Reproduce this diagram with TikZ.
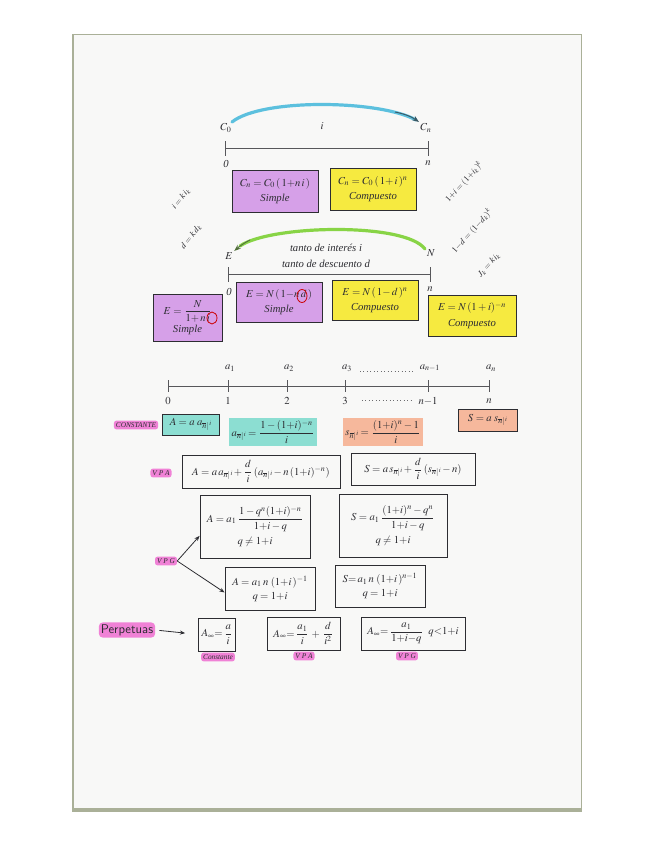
\documentclass[tikz,border=0pt]{standalone}
\usepackage{amsmath}
\usepackage{mathptmx}
\usepackage{fontspec}
\setmainfont{Liberation Serif}
\usetikzlibrary{arrows.meta}
\definecolor{paperedge}{RGB}{170,176,152}
\definecolor{paper}{RGB}{248,248,247}
\definecolor{vio}{RGB}{214,160,232}
\definecolor{yel}{RGB}{246,234,64}
\definecolor{tea}{RGB}{140,222,210}
\definecolor{ora}{RGB}{246,184,156}
\definecolor{pnk}{RGB}{240,130,214}
\definecolor{arcblue}{RGB}{92,192,222}
\definecolor{arcgreen}{RGB}{136,212,70}
\definecolor{ink}{RGB}{45,45,50}
\newcommand\annu[1]{_{\overline{#1}|}}
\tikzset{
  txt/.style={font=\fontsize{8}{9.5}\selectfont\itshape, text=ink, inner sep=1pt},
  rtxt/.style={font=\fontsize{6.5}{7}\selectfont\itshape, text=ink, inner sep=0pt},
  fbox/.style={txt, draw=ink, line width=0.6pt, align=center, inner sep=2pt},
  hl/.style={txt, fill=pnk, rounded corners=2pt, inner sep=1.5pt, font=\fontsize{5.5}{6}\selectfont\itshape},
  axis/.style={draw=ink!80, line width=0.6pt},
  conn/.style={draw=ink, line width=0.6pt, -{Stealth[length=4pt]}},
}
\begin{document}
\begin{tikzpicture}[x=0.75pt,y=-0.75pt]
\useasboundingbox (0,0) rectangle (655,848);
\fill[white] (0,0) rectangle (655,848);
\fill[paperedge] (72,34) rectangle (582,812);
\fill[paper] (73.5,35.5) rectangle (580.5,807.5);

% ---------- top: capitalisation ----------
\node[txt] (c0) at (226,128) {$C_0$};
\node[txt] (cn) at (426,128) {$C_n$};
\node[txt] (ilab) at (322,126) {$i$};
\coordinate (t0) at (225,148);
\coordinate (tn) at (428,148);
\draw[axis] (t0) -- (tn);
\draw[axis] ([yshift=5pt]t0) -- ([yshift=-6pt]t0);
\draw[axis] ([yshift=5pt]tn) -- ([yshift=-6pt]tn);
\node[txt] (z0) at (226,164) {0};
\node[txt] (zn) at (428,163) {$n$};
\draw[arcblue, line width=2.4pt, line cap=round] (232,122) .. controls (262,98) and (380,100) .. (416,120);
\draw[ink!70!arcblue, line width=0.7pt, -{Stealth[length=5pt]}] (395,112) .. controls (405,114) and (412,117) .. (cn.north west);

\node[fbox, fill=vio, minimum width=64.5pt, minimum height=31.5pt] (b1) at (275,191)
  {$C_n = C_0\,(\,1{+}n\,i\,)$\\[2pt]Simple};
\node[fbox, fill=yel, minimum width=64.5pt, minimum height=31.5pt] (b2) at (373,189)
  {$C_n = C_0\,(\,1{+}\,i\,)^{n}$\\[2pt]Compuesto};

\node[rtxt, rotate=52] (r1) at (181,199) {$i = k\,i_k$};
\node[rtxt, rotate=52] (r2) at (191,237) {$d = k\,d_k$};
\node[rtxt, rotate=48] (r3) at (464,182) {$1{+}i = (1{+}i_k)^{k}$};
\node[rtxt, rotate=48] (r4) at (472,231) {$1{-}d = (1{-}d_k)^{k}$};
\node[rtxt, rotate=48] (r5) at (489,265) {$J_k = k\,i_k$};

% ---------- discount ----------
\node[txt] (e) at (229,256) {$E$};
\node[txt] (nn) at (431,253) {$N$};
\node[txt] (ti) at (326,248) {tanto de interés i};
\node[txt] (td) at (326,264) {tanto de descuento d};
\coordinate (s0) at (228,274);
\coordinate (sn) at (430,274);
\draw[axis] (s0) -- (sn);
\draw[axis] ([yshift=5pt]s0) -- ([yshift=-6pt]s0);
\draw[axis] ([yshift=5pt]sn) -- ([yshift=-6pt]sn);
\node[txt] (y0) at (229,292) {0};
\node[txt] (yn) at (430,289) {$n$};
\draw[arcgreen, line width=2.4pt, line cap=round] (425,249) .. controls (405,222) and (270,225) .. (240,246);
\draw[ink!60!arcgreen, line width=0.7pt, -{Stealth[length=5pt]}] (250,240) .. controls (244,243) and (240,246) .. (e.north east);

\node[fbox, fill=vio, minimum width=51.75pt, minimum height=35.25pt] (ba) at (187.5,317.5)
  {$E=\dfrac{N}{1{+}\,n\,i}$\\[1pt]Simple};
\draw[red!80!black, line width=0.6pt] (212,318) ellipse (5 and 6);
\node[fbox, fill=vio, minimum width=64.5pt, minimum height=30pt] (bb) at (279,302)
  {$E = N\,(\,1{-}n\,d\,)$\\[2pt]Simple};
\draw[red!80!black, line width=0.6pt] (302,296) ellipse (5 and 6.5);
\node[fbox, fill=yel, minimum width=64.5pt, minimum height=30pt] (bc) at (375,300)
  {$E = N\,(\,1{-}\,d\,)^{n}$\\[2pt]Compuesto};
\node[fbox, fill=yel, minimum width=66pt, minimum height=30.75pt] (bd) at (472,315.5)
  {$E = N\,(1 + i)^{-n}$\\[2pt]Compuesto};

% ---------- annuity axis ----------
\foreach \x/\nm/\lab/\num in {168/p0//0, 228/p1/a_1/1, 287/p2/a_2/2, 345/p3/a_3/3, 428/p4/a_{n-1}/n{-}1, 489/p5/a_n/n}{
  \coordinate (\nm) at (\x,386);
  \draw[axis] ([yshift=4.5pt]\nm) -- ([yshift=-4.5pt]\nm);
  \node[txt] at (\x,401) {$\num$};
  \node[txt] at (\x+2,368) {$\lab$};
}
\draw[axis] (p0) -- (p5);
\draw[ink!70, dotted, line width=0.6pt] (360,371) -- (414,371);
\draw[ink!70, dotted, line width=0.6pt] (362,400) -- (412,400);

\node[hl] (cte) at (136,425) {CONSTANTE};
\node[fbox, fill=tea, minimum width=42.75pt, minimum height=15.75pt] (ca) at (190.5,424.5)
  {$A = a\;a\annu{n}{\scriptscriptstyle i}$};
\node[txt, fill=tea, inner sep=2pt] (an) at (273,432)
  {$a\annu{n}{\scriptscriptstyle i} = \dfrac{1-(1{+}i)^{-n}}{i}$};
\node[txt, fill=ora, inner sep=2pt] (sn2) at (383,432)
  {$s\annu{n}{\scriptscriptstyle i} = \dfrac{(1{+}i)^{n}-1}{i}$};
\node[fbox, fill=ora, minimum width=44.25pt, minimum height=16.5pt] (cs) at (487.5,420)
  {$S = a\;s\annu{n}{\scriptscriptstyle i}$};

% ---------- VPA ----------
\node[hl] (vpa) at (161,473) {V P A};
\node[fbox, minimum width=118.5pt, minimum height=24.75pt] (va) at (261,471.5)
  {$A = a\,a\annu{n}{\scriptscriptstyle i} + \dfrac{d}{i}\,(a\annu{n}{\scriptscriptstyle i} - n\,(1{+}i)^{-n})$};
\node[fbox, minimum width=93pt, minimum height=24pt] (vs) at (413,469)
  {$S = a\,s\annu{n}{\scriptscriptstyle i} + \dfrac{d}{i}\,(s\annu{n}{\scriptscriptstyle i} - n)$};

% ---------- VPG ----------
\node[fbox, minimum width=82.5pt, minimum height=47.25pt] (ga) at (255,526.5)
  {$A = a_1\,\dfrac{1-q^{n}(1{+}i)^{-n}}{1{+}i-q}$\\[3pt]$q \neq 1{+}i$};
\node[fbox, minimum width=81pt, minimum height=47.25pt] (gs) at (393,525.5)
  {$S = a_1\,\dfrac{(1{+}i)^{n}-q^{n}}{1{+}i-q}$\\[3pt]$q \neq 1{+}i$};
\node[hl] (vpg) at (166,561) {V P G};
\node[fbox, minimum width=67.5pt, minimum height=32.25pt] (ga2) at (270,588.5)
  {$A = a_1\,n\;(1{+}i\,)^{-1}$\\[1pt]$q = 1{+}i$};
\node[fbox, minimum width=67.5pt, minimum height=31.5pt] (gs2) at (380,586)
  {$S{=}\,a_1\,n\;(1{+}i\,)^{n-1}$\\[1pt]$q = 1{+}i$};
\draw[conn] (vpg.east) -- ([yshift=-7pt]ga.west);
\draw[conn] (vpg.east) -- ([yshift=-3pt]ga2.west);

% ---------- perpetuities ----------
\node[txt, fill=pnk, rounded corners=3pt, font=\fontsize{9.5}{10}\selectfont\sffamily, inner sep=1.5pt] (perp) at (127,630) {Perpetuas};
\node[fbox, minimum width=27pt, minimum height=24.75pt] (pa) at (217,634.5)
  {$A_{\infty}{=}\,\dfrac{a}{i}$};
\node[fbox, minimum width=54.75pt, minimum height=24.75pt] (pb) at (303.5,633.5)
  {$A_{\infty}{=}\,\dfrac{a_1}{i}\,+\,\dfrac{d}{i^{2}}$};
\node[fbox, minimum width=78pt, minimum height=24.75pt] (pc) at (413,633.5)
  {$A_{\infty}{=}\,\dfrac{a_1}{1{+}i{-}q}\enspace q{<}1{+}i$};
\draw[conn, shorten >=10pt, shorten <=3pt] (perp.east) -- (pa.west);
\node[hl] (lc) at (218,657) {Constante};
\node[hl] (lv) at (304,656) {V P A};
\node[hl] (lg) at (407,656) {V P G};
\end{tikzpicture}
\end{document}
